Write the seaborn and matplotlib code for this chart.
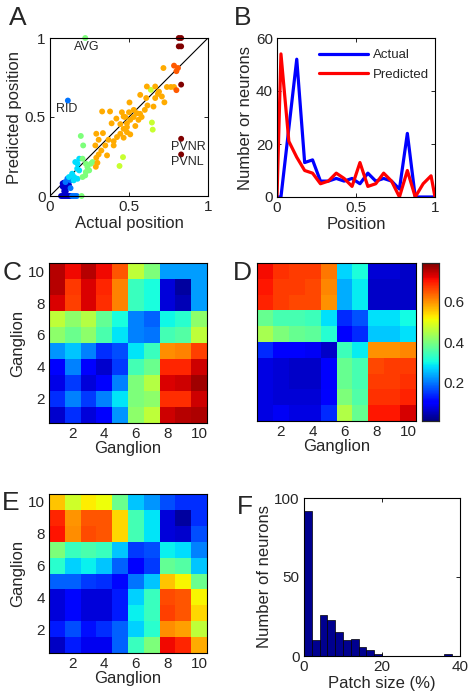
import numpy as np
import pandas as pd
import matplotlib
matplotlib.use("Agg")
import matplotlib.pyplot as plt
import seaborn as sns

# ---------------- panel A : predicted vs actual position ----------------
# group: 1 dark blue ... 8 dark red (colour class of the neuron)
actual_pos = [
    # group 1
    0.08, 0.09, 0.10, 0.08, 0.09, 0.10, 0.11, 0.12, 0.09, 0.10, 0.07, 0.08, 0.09, 0.10, 0.11, 0.12, 0.13,
    # group 2
    0.113, 0.13, 0.11, 0.14, 0.15, 0.16, 0.17, 0.13, 0.098,
    # group 3
    0.16, 0.172, 0.185, 0.174, 0.185, 0.14, 0.153, 0.12, 0.15, 0.174,
    # group 4
    0.223, 0.20, 0.195, 0.21, 0.227, 0.237, 0.248, 0.258, 0.269, 0.227, 0.223, 0.206, 0.206,
    # group 5
    0.638, 0.645, 0.65, 0.462, 0.44,
    # group 6
    0.718, 0.74, 0.765, 0.613, 0.666, 0.683, 0.571, 0.708, 0.609, 0.666, 0.724, 0.503, 0.617, 0.655,
    0.33, 0.38, 0.455, 0.50, 0.53, 0.55, 0.57, 0.466, 0.476, 0.53, 0.508, 0.56, 0.39, 0.445, 0.487,
    0.487, 0.54, 0.293, 0.335, 0.466, 0.445, 0.487, 0.424, 0.466, 0.508, 0.308, 0.37, 0.403, 0.287,
    0.35, 0.403, 0.325, 0.308, 0.361, 0.293, 0.30, 0.29, 0.69, 0.60, 0.42, 0.58, 0.785,
    # group 7
    0.785, 0.81, 0.80, 0.80,
    # group 8
    0.815, 0.83, 0.815, 0.83, 0.83, 0.83, 0.83,
]
pred_pos = [
    0.08, 0.085, 0.08, 0.06, 0.05, 0.055, 0.06, 0.07, 0.03, 0.03, 0.0, 0.0, 0.0, 0.0, 0.0, 0.0, 0.0,
    0.604, 0.10, 0.11, 0.0, 0.0, 0.0, 0.0, 0.05, 0.088,
    0.215, 0.173, 0.236, 0.204, 0.162, 0.141, 0.12, 0.12, 0.099, 0.109,
    1.0, 0.0, 0.38, 0.32, 0.204, 0.183, 0.162, 0.204, 0.215, 0.152, 0.13, 0.12, 0.236,
    0.672, 0.465, 0.42, 0.246, 0.19,
    0.81, 0.69, 0.69, 0.693, 0.693, 0.646, 0.64, 0.63, 0.62, 0.62, 0.593, 0.592, 0.573, 0.566,
    0.535, 0.535, 0.53, 0.53, 0.545, 0.524, 0.52, 0.503, 0.50, 0.50, 0.482, 0.482, 0.46, 0.455, 0.46,
    0.436, 0.443, 0.394, 0.398, 0.425, 0.394, 0.404, 0.373, 0.369, 0.39, 0.356, 0.356, 0.347, 0.32,
    0.32, 0.32, 0.288, 0.263, 0.257, 0.242, 0.21, 0.185, 0.66, 0.545, 0.49, 0.50, 0.69,
    0.825, 0.81, 0.79, 0.67,
    1.0, 1.0, 0.947, 0.947, 0.705, 0.362, 0.263,
]
group = [1] * 17 + [2] * 9 + [3] * 10 + [4] * 13 + [5] * 5 + [6] * 56 + [7] * 4 + [8] * 7

neuron_names = ["AVG", "RID", "PVNR", "PVNL"]

# ---------------- panel B : position histograms ----------------
bin_pos = [0, 0.025, 0.075, 0.125, 0.175, 0.225, 0.275, 0.325, 0.375, 0.425, 0.475,
           0.525, 0.575, 0.625, 0.675, 0.725, 0.775, 0.825, 0.875, 0.925, 0.975, 1.0]
actual_count = [0, 0, 26, 52, 13, 14, 6, 6, 7, 6, 7, 5, 9, 6, 7, 6, 3, 24, 0, 0, 0, 0]
predicted_count = [0, 54, 21, 15, 10, 9, 5, 6, 9, 7, 4, 13, 4, 5, 9, 6, 0, 10, 0, 5, 8, 0]

# ---------------- panels C, D, E : ganglion x ganglion matrices ----------------
# first row = ganglion 10 (top), last row = ganglion 1 (bottom)
c_rows = [
    [0.95, 0.90, 0.95, 0.90, 0.82, 0.58, 0.50, 0.28, 0.28, 0.28],
    [0.95, 0.85, 0.92, 0.87, 0.77, 0.42, 0.38, 0.08, 0.03, 0.28],
    [0.92, 0.84, 0.92, 0.86, 0.77, 0.42, 0.38, 0.08, 0.05, 0.28],
    [0.58, 0.52, 0.57, 0.47, 0.38, 0.25, 0.22, 0.37, 0.40, 0.52],
    [0.52, 0.48, 0.52, 0.44, 0.35, 0.25, 0.24, 0.43, 0.45, 0.58],
    [0.27, 0.32, 0.25, 0.17, 0.20, 0.35, 0.42, 0.76, 0.77, 0.84],
    [0.12, 0.25, 0.11, 0.07, 0.18, 0.43, 0.48, 0.87, 0.87, 0.93],
    [0.09, 0.18, 0.08, 0.12, 0.25, 0.50, 0.57, 0.92, 0.93, 0.97],
    [0.17, 0.25, 0.18, 0.25, 0.35, 0.50, 0.52, 0.86, 0.86, 0.93],
    [0.07, 0.17, 0.08, 0.12, 0.27, 0.52, 0.58, 0.93, 0.95, 0.96],
]
d_rows = [
    [0.71, 0.68, 0.67, 0.67, 0.62, 0.27, 0.31, 0.07, 0.07, 0.06],
    [0.70, 0.67, 0.67, 0.66, 0.61, 0.24, 0.29, 0.06, 0.06, 0.06],
    [0.69, 0.67, 0.66, 0.66, 0.60, 0.24, 0.29, 0.06, 0.06, 0.06],
    [0.38, 0.35, 0.35, 0.34, 0.28, 0.14, 0.17, 0.28, 0.28, 0.30],
    [0.44, 0.40, 0.38, 0.37, 0.32, 0.10, 0.14, 0.26, 0.26, 0.28],
    [0.14, 0.10, 0.10, 0.09, 0.06, 0.34, 0.29, 0.60, 0.60, 0.61],
    [0.08, 0.07, 0.06, 0.06, 0.10, 0.38, 0.35, 0.66, 0.67, 0.67],
    [0.08, 0.07, 0.06, 0.06, 0.10, 0.38, 0.35, 0.67, 0.67, 0.68],
    [0.08, 0.07, 0.07, 0.07, 0.11, 0.40, 0.36, 0.68, 0.68, 0.69],
    [0.08, 0.09, 0.08, 0.08, 0.14, 0.45, 0.38, 0.70, 0.70, 0.73],
]
e_rows = [
    [0.70, 0.60, 0.66, 0.64, 0.48, 0.32, 0.27, 0.20, 0.17, 0.17],
    [0.87, 0.75, 0.82, 0.82, 0.68, 0.43, 0.35, 0.08, 0.03, 0.17],
    [0.89, 0.76, 0.83, 0.82, 0.68, 0.43, 0.35, 0.08, 0.07, 0.20],
    [0.50, 0.42, 0.44, 0.42, 0.32, 0.18, 0.20, 0.36, 0.34, 0.25],
    [0.40, 0.33, 0.36, 0.32, 0.22, 0.12, 0.18, 0.47, 0.45, 0.32],
    [0.22, 0.22, 0.18, 0.17, 0.13, 0.24, 0.32, 0.70, 0.65, 0.48],
    [0.08, 0.13, 0.08, 0.08, 0.15, 0.33, 0.42, 0.83, 0.82, 0.65],
    [0.08, 0.13, 0.08, 0.08, 0.15, 0.36, 0.42, 0.84, 0.82, 0.68],
    [0.15, 0.20, 0.14, 0.17, 0.22, 0.33, 0.40, 0.76, 0.74, 0.58],
    [0.06, 0.15, 0.10, 0.10, 0.22, 0.42, 0.50, 0.90, 0.87, 0.73],
]
ganglion_ticks = ["2", "4", "6", "8", "10"]

# ---------------- panel F : patch size histogram ----------------
patch_bin_center = [1, 3, 5, 7, 9, 11, 13, 15, 17, 19, 21, 23, 25, 27, 29, 31, 33, 35, 37, 39]
patch_count = [92, 10, 26, 23, 15, 10, 11, 6, 4, 1, 0, 0, 0, 0, 0, 0, 0, 0, 1, 0]

# ---------------- style ----------------
sns.set_theme(style="ticks")
plt.rcParams["font.family"] = ["Liberation Sans", "DejaVu Sans"]
plt.rcParams["axes.linewidth"] = 0.8
plt.rcParams["xtick.direction"] = "in"
plt.rcParams["ytick.direction"] = "in"

W, H = 470, 700
fig = plt.figure(figsize=(4.7, 7), dpi=100)


def box(l, r, t, b):
    return fig.add_axes([l / W, 1 - b / H, (r - l) / W, (b - t) / H])


def matlab_ticks(ax):
    ax.tick_params(direction="in", top=True, right=True, length=3, width=0.6,
                   labelsize=11, pad=3, color="black")
    for s in ax.spines.values():
        s.set_visible(True)
        s.set_color("black")
        s.set_linewidth(0.8)


jet = plt.get_cmap("jet")
group_color = {1: jet(0.07), 2: jet(0.24), 3: jet(0.34), 4: jet(0.50),
               5: jet(0.59), 6: jet(0.73), 7: jet(0.815), 8: jet(1.0)}
lab_fs = 12
letter_fs = 19

# A
axA = box(50, 208, 38, 196)
dfA = pd.DataFrame({"actual": actual_pos, "pred": pred_pos, "group": group})
axA.plot([0, 1], [0, 1], color="black", lw=0.8, zorder=1)
sns.scatterplot(data=dfA, x="actual", y="pred", hue="group", palette=group_color,
                s=18, linewidth=0, legend=False, ax=axA, zorder=2, clip_on=False)
axA.set_xlim(0, 1)
axA.set_ylim(0, 1)
axA.set_xticks([0, 0.5, 1])
axA.set_xticklabels(["0", "0.5", "1"])
axA.set_yticks([0, 0.5, 1])
axA.set_yticklabels(["0", "0.5", "1"])
axA.set_xlabel("Actual position", fontsize=lab_fs, labelpad=1)
axA.set_ylabel("Predicted position", fontsize=lab_fs, labelpad=2)
matlab_ticks(axA)
name_xy = [(0.15, 0.94), (0.04, 0.55), (0.765, 0.31), (0.765, 0.215)]
for name, (tx, ty) in zip(neuron_names, name_xy):
    axA.text(tx, ty, name, fontsize=9, va="center", ha="left")

# B
axB = box(277, 435, 38, 197)
dfB = pd.DataFrame({"Position": bin_pos * 2,
                    "count": actual_count + predicted_count,
                    "series": ["Actual"] * len(bin_pos) + ["Predicted"] * len(bin_pos)})
sns.lineplot(data=dfB, x="Position", y="count", hue="series",
             palette={"Actual": "#0000FF", "Predicted": "#FF0000"}, lw=2.3, ax=axB)
axB.set_xlim(0, 1)
axB.set_ylim(0, 60)
axB.set_xticks([0, 0.5, 1])
axB.set_xticklabels(["0", "0.5", "1"])
axB.set_yticks([0, 20, 40, 60])
axB.set_xlabel("Position", fontsize=lab_fs, labelpad=1)
axB.set_ylabel("Number or neurons", fontsize=lab_fs, labelpad=2)
matlab_ticks(axB)
leg = axB.legend(loc="upper left", bbox_to_anchor=(0.265, 0.93), frameon=False,
                 fontsize=9.5, handlelength=3.7, handletextpad=0.4, labelspacing=0.55,
                 borderpad=0, borderaxespad=0)
for line in leg.get_lines():
    line.set_linewidth(2.3)


def draw_matrix(ax, rows, vmin, vmax, cbar_ax=None):
    sns.heatmap(np.array(rows), cmap="jet", vmin=vmin, vmax=vmax, ax=ax,
                cbar=cbar_ax is not None, cbar_ax=cbar_ax,
                cbar_kws={"ticks": [0.2, 0.4, 0.6]} if cbar_ax is not None else None,
                xticklabels=False, yticklabels=False)
    ax.set_xticks([1.5, 3.5, 5.5, 7.5, 9.5])
    ax.set_xticklabels(ganglion_ticks, rotation=0)
    ax.set_yticks([0.5, 2.5, 4.5, 6.5, 8.5])
    ax.set_yticklabels(ganglion_ticks[::-1], rotation=0)
    matlab_ticks(ax)
    ax.tick_params(length=2)
    ax.set_xlabel("Ganglion", fontsize=lab_fs, labelpad=0)


# C
axC = box(49, 207, 263, 423)
draw_matrix(axC, c_rows, 0, 1)
axC.set_ylabel("Ganglion", fontsize=lab_fs, labelpad=2)

# D with colorbar
axD = box(257, 416, 263, 421)
caxD = box(422, 439, 263, 421)
draw_matrix(axD, d_rows, 0.01, 0.79, cbar_ax=caxD)
axD.set_yticklabels([])
caxD.tick_params(direction="in", left=True, right=True, length=2.5, width=0.6,
                 labelsize=11, color="black")
for s in caxD.spines.values():
    s.set_visible(True)
    s.set_linewidth(0.8)
caxD.set_frame_on(True)

# E
axE = box(49, 207, 494, 653)
draw_matrix(axE, e_rows, 0, 1)
axE.set_ylabel("Ganglion", fontsize=lab_fs, labelpad=2)

# F
axF = box(304, 460, 498, 656)
dfF = pd.DataFrame({"patch": patch_bin_center, "n": patch_count})
sns.histplot(data=dfF, x="patch", weights="n", bins=20, binrange=(0, 40),
             color=(0, 0, 0.5625), edgecolor="black", linewidth=0.5, alpha=1, ax=axF)
axF.set_xlim(0, 40)
axF.set_ylim(0, 100)
axF.set_xticks([0, 20, 40])
axF.set_yticks([0, 50, 100])
axF.set_xlabel("Patch size (%)", fontsize=lab_fs, labelpad=1)
axF.set_ylabel("Number of neurons", fontsize=lab_fs, labelpad=2)
matlab_ticks(axF)

# panel letters
for letter, (px, py) in zip("ABCDEF", [(9, 18), (234, 18), (3, 273), (233, 273), (2, 503), (237, 507)]):
    fig.text(px / W, 1 - py / H, letter, fontsize=letter_fs, va="center", ha="left")

fig.savefig("out.png", dpi=100)
